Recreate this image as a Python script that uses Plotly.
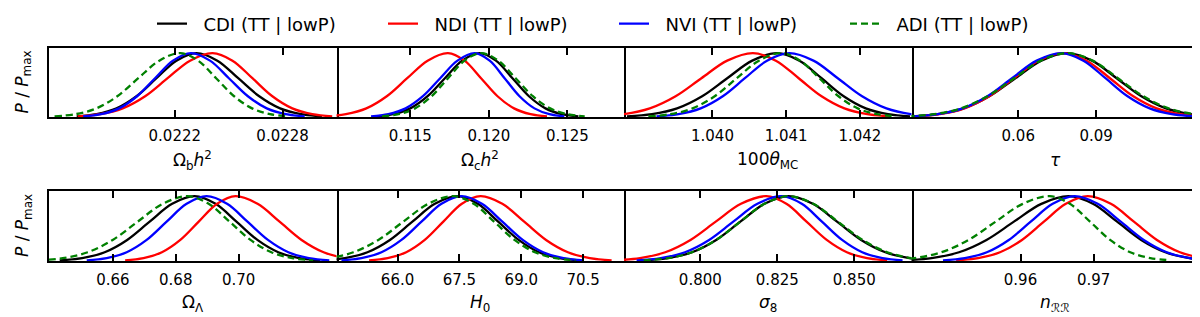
import plotly.graph_objects as go

FONT = "DejaVu Sans"

# Relative posterior heights P/Pmax shared by every curve (read at the same levels)
HEIGHTS = [0.011, 0.044, 0.135, 0.325, 0.607, 0.882, 1.0, 0.882, 0.607, 0.325, 0.135, 0.044, 0.011]

SERIES_NAMES = ["CDI (TT | lowP)", "NDI (TT | lowP)", "NVI (TT | lowP)", "ADI (TT | lowP)"]
SERIES_COLORS = ["#000000", "#ff0000", "#0000ff", "#008000"]
SERIES_DASH = ["solid", "solid", "solid", "7px,4px"]

AXIS_TITLES = [
    "Ω<sub>b</sub><i>h</i><sup>2</sup>",
    "Ω<sub>c</sub><i>h</i><sup>2</sup>",
    "100<i>θ</i><sub>MC</sub>",
    "<i>τ</i>",
    "Ω<sub>Λ</sub>",
    "<i>H</i><sub>0</sub>",
    "<i>σ</i><sub>8</sub>",
    "<i>n</i><sub>ℛℛ</sub>",
]
X_RANGES = [[0.0215, 0.0231], [0.1103, 0.1286], [1.0388, 1.0427], [0.0189, 0.1296],
            [0.6397, 0.7311], [64.52, 71.49], [0.7752, 0.8686], [0.9451, 0.9844]]
TICK_VALS = [[0.0222, 0.0228], [0.115, 0.120, 0.125], [1.040, 1.041, 1.042], [0.06, 0.09],
             [0.66, 0.68, 0.70], [66.0, 67.5, 69.0, 70.5], [0.800, 0.825, 0.850], [0.96, 0.97]]
TICK_TEXT = [["0.0222", "0.0228"], ["0.115", "0.120", "0.125"], ["1.040", "1.041", "1.042"], ["0.06", "0.09"],
             ["0.66", "0.68", "0.70"], ["66.0", "67.5", "69.0", "70.5"], ["0.800", "0.825", "0.850"], ["0.96", "0.97"]]

# x positions (parameter values) where each curve reaches HEIGHTS
CDI_OBH2 = [0.021654, 0.021765, 0.021876, 0.021987, 0.022098, 0.022209, 0.02232, 0.022437, 0.022553, 0.02267, 0.022786, 0.022903, 0.023019]
NDI_OBH2 = [0.02166, 0.021785, 0.02191, 0.022035, 0.02216, 0.022285, 0.02241, 0.022521, 0.022632, 0.022743, 0.022854, 0.022965, 0.023076]
NVI_OBH2 = [0.02169, 0.02179, 0.02189, 0.02199, 0.02209, 0.02219, 0.02229, 0.022396, 0.022501, 0.022607, 0.022712, 0.022818, 0.022923]
ADI_OBH2 = [0.021531, 0.021647, 0.021764, 0.02188, 0.021997, 0.022114, 0.02223, 0.02233, 0.02243, 0.02253, 0.02263, 0.02273, 0.02283]

CDI_OCH2 = [0.1128, 0.1139, 0.1150, 0.1161, 0.1172, 0.1183, 0.1194, 0.12045, 0.1215, 0.12255, 0.1236, 0.12465, 0.1257]
NDI_OCH2 = [0.1096, 0.1109, 0.1122, 0.1135, 0.1148, 0.1161, 0.1174, 0.11845, 0.1195, 0.12055, 0.1216, 0.12265, 0.1237]
NVI_OCH2 = [0.1125, 0.1136, 0.1147, 0.1158, 0.1169, 0.1180, 0.1191, 0.12005, 0.1210, 0.12195, 0.1229, 0.12385, 0.1248]
ADI_OCH2 = [0.1132, 0.11425, 0.1153, 0.11635, 0.1174, 0.11845, 0.1195, 0.1206, 0.1217, 0.1228, 0.1239, 0.1250, 0.1261]

CDI_THETA = [1.03884, 1.03918, 1.03952, 1.03986, 1.0402, 1.04054, 1.04088, 1.04118, 1.04148, 1.04178, 1.04208, 1.04238, 1.04268]
NDI_THETA = [1.03845, 1.0388, 1.03915, 1.0395, 1.03985, 1.0402, 1.04055, 1.04086, 1.04117, 1.04148, 1.04179, 1.0421, 1.04241]
NVI_THETA = [1.03924, 1.03954, 1.03984, 1.04014, 1.04044, 1.04074, 1.04104, 1.04137, 1.0417, 1.04203, 1.04236, 1.04269, 1.04302]
ADI_THETA = [1.03913, 1.03943, 1.03973, 1.04003, 1.04033, 1.04063, 1.04093, 1.04119, 1.04145, 1.04171, 1.04197, 1.04223, 1.04249]

CDI_TAU = [0.0189, 0.0289, 0.0389, 0.0489, 0.0589, 0.0689, 0.0789, 0.0884, 0.0979, 0.1074, 0.1169, 0.1264, 0.1359]
NDI_TAU = [0.0203, 0.0298, 0.0393, 0.0488, 0.0583, 0.0678, 0.0773, 0.0863, 0.0953, 0.1043, 0.1133, 0.1223, 0.1313]
NVI_TAU = [0.0196, 0.0291, 0.0386, 0.0481, 0.0576, 0.0671, 0.0766, 0.0851, 0.0936, 0.1021, 0.1106, 0.1191, 0.1276]
ADI_TAU = [0.0174, 0.02765, 0.0379, 0.04815, 0.0584, 0.06865, 0.0789, 0.08865, 0.0984, 0.10815, 0.1179, 0.12765, 0.1374]

CDI_OL = [0.6431, 0.65025, 0.6574, 0.66455, 0.6717, 0.67885, 0.686, 0.69265, 0.6993, 0.70595, 0.7126, 0.71925, 0.7259]
NDI_OL = [0.6639, 0.66975, 0.6756, 0.68145, 0.6873, 0.69315, 0.699, 0.706, 0.713, 0.72, 0.727, 0.734, 0.741]
NVI_OL = [0.6517, 0.65805, 0.6644, 0.67075, 0.6771, 0.68345, 0.6898, 0.6963, 0.7028, 0.7093, 0.7158, 0.7223, 0.7288]
ADI_OL = [0.6361, 0.64405, 0.652, 0.65995, 0.6679, 0.67585, 0.6838, 0.69045, 0.6971, 0.70375, 0.7104, 0.71705, 0.7237]

CDI_H0 = [64.18, 64.725, 65.27, 65.815, 66.36, 66.905, 67.45, 67.945, 68.44, 68.935, 69.43, 69.925, 70.42]
NDI_H0 = [65.31, 65.76, 66.21, 66.66, 67.11, 67.56, 68.01, 68.54, 69.07, 69.6, 70.13, 70.66, 71.19]
NVI_H0 = [64.64, 65.125, 65.61, 66.095, 66.58, 67.065, 67.55, 68.045, 68.54, 69.035, 69.53, 70.025, 70.52]
ADI_H0 = [63.72, 64.325, 64.93, 65.535, 66.14, 66.745, 67.35, 67.845, 68.34, 68.835, 69.33, 69.825, 70.32]

CDI_S8 = [0.7816, 0.78945, 0.7973, 0.80515, 0.813, 0.82085, 0.8287, 0.83655, 0.8444, 0.85225, 0.8601, 0.86795, 0.8758]
NDI_S8 = [0.7722, 0.7804, 0.7886, 0.7968, 0.805, 0.8132, 0.8214, 0.82795, 0.8345, 0.84105, 0.8476, 0.85415, 0.8607]
NVI_S8 = [0.7793, 0.78715, 0.795, 0.80285, 0.8107, 0.81855, 0.8264, 0.83295, 0.8395, 0.84605, 0.8526, 0.85915, 0.8657]
ADI_S8 = [0.7816, 0.78945, 0.7973, 0.80515, 0.813, 0.82085, 0.8287, 0.8367, 0.8447, 0.8527, 0.8607, 0.8687, 0.8767]

CDI_NS = [0.9441, 0.94785, 0.9516, 0.95535, 0.9591, 0.96285, 0.9666, 0.9699, 0.9732, 0.9765, 0.9798, 0.9831, 0.9864]
NDI_NS = [0.9512, 0.9542, 0.9572, 0.9602, 0.9632, 0.9662, 0.9692, 0.97235, 0.9755, 0.97865, 0.9818, 0.98495, 0.9881]
NVI_NS = [0.9494, 0.9524, 0.9554, 0.9584, 0.9614, 0.9644, 0.9674, 0.97055, 0.9737, 0.97685, 0.98, 0.98315, 0.9863]
ADI_NS = [0.9418, 0.9455, 0.9492, 0.9529, 0.9566, 0.9603, 0.964, 0.96675, 0.9695, 0.97225, 0.975, 0.97775, 0.9805]

CDI = [CDI_OBH2, CDI_OCH2, CDI_THETA, CDI_TAU, CDI_OL, CDI_H0, CDI_S8, CDI_NS]
NDI = [NDI_OBH2, NDI_OCH2, NDI_THETA, NDI_TAU, NDI_OL, NDI_H0, NDI_S8, NDI_NS]
NVI = [NVI_OBH2, NVI_OCH2, NVI_THETA, NVI_TAU, NVI_OL, NVI_H0, NVI_S8, NVI_NS]
ADI = [ADI_OBH2, ADI_OCH2, ADI_THETA, ADI_TAU, ADI_OL, ADI_H0, ADI_S8, ADI_NS]
SERIES_DATA = [CDI, NDI, NVI, ADI]

W, H = 1200, 317
ML, MR, MT, MB = 41, 9, 40, 64
PH = H - MT - MB
ROW_DOMAINS = [[(H - MB - 109) / PH, 1.0], [0.0, (H - MB - 183) / PH]]

fig = go.Figure()
layout = dict(
    width=W, height=H,
    margin=dict(l=ML, r=MR, t=MT, b=MB, pad=0, autoexpand=False),
    paper_bgcolor="white", plot_bgcolor="white",
    font=dict(family=FONT, color="black"),
    showlegend=True,
    legend=dict(orientation="h", xref="container", yref="container",
                x=0.12, xanchor="left", y=(H - 16) / H, yanchor="middle",
                font=dict(family=FONT, size=18, color="black"),
                entrywidth=186, entrywidthmode="pixels",
                bgcolor="rgba(0,0,0,0)", borderwidth=0),
)
annotations = []
for i in range(8):
    n = i + 1
    col, row = i % 4, i // 4
    xa = "x" if n == 1 else f"x{n}"
    ya = "y" if n == 1 else f"y{n}"
    for s in range(4):
        fig.add_trace(go.Scatter(
            x=SERIES_DATA[s][i], y=HEIGHTS, mode="lines",
            line=dict(color=SERIES_COLORS[s], width=2.3, dash=SERIES_DASH[s], shape="spline", smoothing=1.0),
            name="\u00a0\u00a0" + SERIES_NAMES[s], legendgroup=SERIES_NAMES[s], showlegend=(i == 0),
            xaxis=xa, yaxis=ya, hoverinfo="skip"))
    layout["xaxis" if n == 1 else f"xaxis{n}"] = dict(
        domain=[col * 0.25, (col + 1) * 0.25], anchor=ya, range=X_RANGES[i],
        tickmode="array", tickvals=TICK_VALS[i], ticktext=TICK_TEXT[i],
        ticks="inside", ticklen=7, tickwidth=1.5, tickcolor="black",
        showline=True, linewidth=2.4, linecolor="black", mirror="ticks",
        showgrid=False, zeroline=False, ticklabelstandoff=4,
        tickfont=dict(family=FONT, size=15, color="black"))
    ycfg = dict(
        domain=ROW_DOMAINS[row], anchor=xa, range=[0, 1.08],
        showline=True, linewidth=2.4, linecolor="black",
        showticklabels=False, ticks="", showgrid=False, zeroline=False)
    if col == 0:
        ycfg["mirror"] = True
    else:
        ycfg["side"] = "right"
        ycfg["mirror"] = False
    layout["yaxis" if n == 1 else f"yaxis{n}"] = ycfg
    title_px = 152 if row == 0 else 295
    annotations.append(dict(
        text=AXIS_TITLES[i], xref=f"{xa} domain", x=0.5, xanchor="center",
        yref="paper", y=(H - MB - title_px) / PH, yanchor="middle",
        showarrow=False, font=dict(family=FONT, size=17, color="black")))

for row in range(2):
    center_px = (40 + 109) / 2 if row == 0 else (183 + 253) / 2
    annotations.append(dict(
        text="<i>P</i> / <i>P</i><sub>max</sub>", textangle=-90,
        xref="paper", x=(15 - ML) / (W - ML - MR), xanchor="center",
        yref="paper", y=(H - MB - center_px) / PH, yanchor="middle",
        showarrow=False, font=dict(family=FONT, size=17, color="black")))

layout["annotations"] = annotations
fig.update_layout(**layout)
fig.write_html("out.html")
